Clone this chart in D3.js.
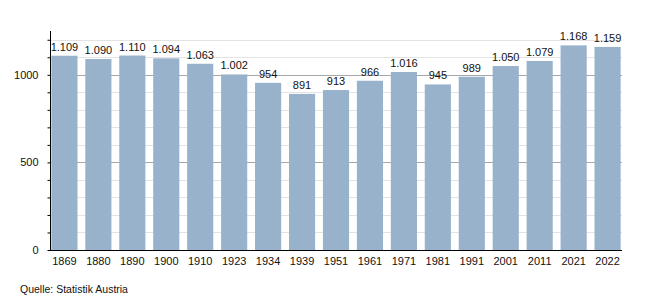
<!DOCTYPE html>
<html>
<head>
<meta charset="utf-8">
<script src="https://cdn.jsdelivr.net/npm/d3@7"></script>
<style>
  body { margin: 0; background: #fff; }
  text { font-family: "Liberation Sans", Arial, sans-serif; }
</style>
</head>
<body>
<div id="chart"></div>
<script>
// Data
const YEARS = ["1869", "1880", "1890", "1900", "1910", "1923", "1934", "1939", "1951",
  "1961", "1971", "1981", "1991", "2001", "2011", "2021", "2022"];
const VALUES = [1109, 1090, 1110, 1094, 1063, 1002, 954, 891, 913,
  966, 1016, 945, 989, 1050, 1079, 1168, 1159];
const Y_TICK_LABELS = [0, 500, 1000];
const SOURCE = "Quelle: Statistik Austria";

const WIDTH = 650, HEIGHT = 300;
const COLORS = {
  bar: "#98b2cb",
  grid: "#e3e3e3",
  gridMajor: "#a8a8a8",
  axis: "#000",
  text: "#111",
};

const svg = d3.select("#chart").append("svg")
  .attr("width", WIDTH).attr("height", HEIGHT);

const x = d3.scaleBand().domain(YEARS).range([50, 622])
  .paddingInner(0.23).paddingOuter(0.04);
const y = d3.scaleLinear().domain([0, 1250]).range([250, 31]);

const fmt = d3.formatLocale({ decimal: ",", thousands: ".", grouping: [3], currency: ["", "€"] }).format(",d");

// gridlines every 100
const gridTicks = d3.range(100, 1300, 100);
svg.append("g").selectAll("line").data(gridTicks).join("line")
  .attr("x1", 50).attr("x2", 622)
  .attr("y1", d => Math.round(y(d)) + 0.5).attr("y2", d => Math.round(y(d)) + 0.5)
  .attr("stroke", d => (d % 500 === 0 ? COLORS.gridMajor : COLORS.grid))
  .attr("stroke-width", 1);

// bars
svg.append("g").selectAll("rect").data(VALUES).join("rect")
  .attr("x", (d, i) => x(YEARS[i]))
  .attr("width", x.bandwidth())
  .attr("y", d => y(d))
  .attr("height", d => y(0) - y(d))
  .attr("fill", COLORS.bar);

// value labels
svg.append("g").selectAll("text").data(VALUES).join("text")
  .attr("x", (d, i) => x(YEARS[i]) + x.bandwidth() / 2)
  .attr("y", d => y(d) - 5)
  .attr("text-anchor", "middle")
  .attr("font-size", 11)
  .attr("fill", COLORS.text)
  .text(d => fmt(d));

// y axis: ticks every 100, labels at 0/500/1000
const yAxis = d3.axisLeft(y).tickValues(d3.range(0, 1300, 100)).tickSize(3).tickPadding(9)
  .tickFormat(d => (Y_TICK_LABELS.includes(d) ? d : ""));
const gy = svg.append("g").attr("transform", "translate(50.5,0)").call(yAxis);
gy.select(".domain").attr("d", `M0,${y(1250)}V${y(0)}`).attr("stroke", COLORS.axis);
gy.selectAll("text").attr("font-size", 11).attr("fill", COLORS.text).attr("font-family", null);

// x axis
const xAxis = d3.axisBottom(x).tickSize(0).tickPadding(7);
const gx = svg.append("g").attr("transform", "translate(0,250.5)").call(xAxis);
gx.select(".domain").attr("d", "M50,0H622").attr("stroke", COLORS.axis);
gx.selectAll("text").attr("font-size", 11).attr("fill", COLORS.text).attr("font-family", null);

// source
svg.append("text").attr("x", 20).attr("y", 293)
  .attr("font-size", 10.5).attr("fill", COLORS.text)
  .text(SOURCE);
</script>
</body>
</html>
